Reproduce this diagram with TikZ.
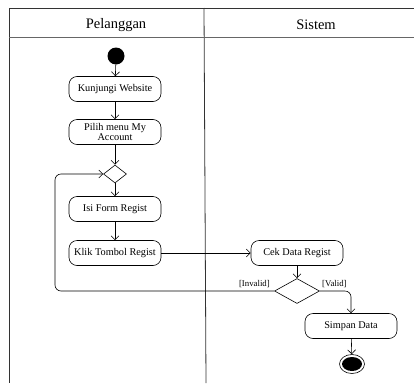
\documentclass[tikz,border=0pt]{standalone}
\usepackage{fontspec}
\setmainfont{Liberation Serif}
\usetikzlibrary{arrows.meta,shapes.geometric}
\begin{document}
\begin{tikzpicture}[x=1pt,y=-1pt,
  act/.style={draw, rounded corners=8pt, minimum width=92pt, minimum height=25pt, inner sep=1pt, align=center, font=\fontsize{10.3}{10.5}\selectfont, line width=0.6pt},
  dec/.style={draw, diamond, inner sep=0pt, line width=0.6pt},
  flow/.style={-{Straight Barb[length=4pt,width=8pt]}, line width=0.6pt},
  lane/.style={line width=0.8pt, draw=black!80},
  lbl/.style={font=\fontsize{8.8}{9}\selectfont, inner sep=1pt}]
\useasboundingbox (0,0) rectangle (414,383);
% swimlanes
\draw[lane] (414,8) -- (9,8) -- (9,383);
\draw[lane] (204,8) -- (206,383);
\draw[lane, draw=black!60] (9,37) -- (414,37);
\node[font=\fontsize{14.5}{15}\selectfont] (h1) at (116,25) {Pelanggan};
\node[font=\fontsize{14.5}{15}\selectfont] (h2) at (316,25) {Sistem};
% nodes
\node[circle, fill=black, minimum size=17pt, inner sep=0pt] (start) at (116,56) {};
\node[act] (kw) at (115,89) {Kunjungi Website};
\node[act] (pm) at (115,132) {Pilih menu My\\Account};
\node[dec, minimum width=23pt, minimum height=18pt] (d1) at (115,174) {};
\node[act] (if) at (115,209) {Isi Form Regist};
\node[act] (kt) at (115,253) {Klik Tombol Regist};
\node[act] (cd) at (297,253) {Cek Data Regist};
\node[dec, minimum width=45pt, minimum height=25pt] (d2) at (297,291) {};
\node[act] (sd) at (351,326) {Simpan Data};
\node[ellipse, draw, minimum width=25pt, minimum height=19pt, inner sep=0pt, line width=0.6pt] (end) at (352,364) {};
\node[ellipse, fill=black, minimum width=20pt, minimum height=14pt, inner sep=0pt] (endin) at (352,364) {};
% flows
\draw[flow] (start) -- (kw);
\draw[flow] (kw) -- (pm);
\draw[flow] (pm) -- (d1);
\draw[flow] (d1) -- (if);
\draw[flow] (if) -- (kt);
\draw[flow] (kt) -- (cd);
\draw[flow] (cd) -- (d2);
\draw[flow, rounded corners=6pt] (d2.west) -- (55,291) -- (55,174) -- (d1.west);
\draw[flow, rounded corners=6pt] (d2.east) -- (351,291) -- (sd.north);
\draw[flow] (sd) -- (end);
\node[lbl, anchor=south east] (inv) at (271,289) {[Invalid]};
\node[lbl, anchor=south west] (val) at (321,289) {[Valid]};
\end{tikzpicture}
\end{document}
